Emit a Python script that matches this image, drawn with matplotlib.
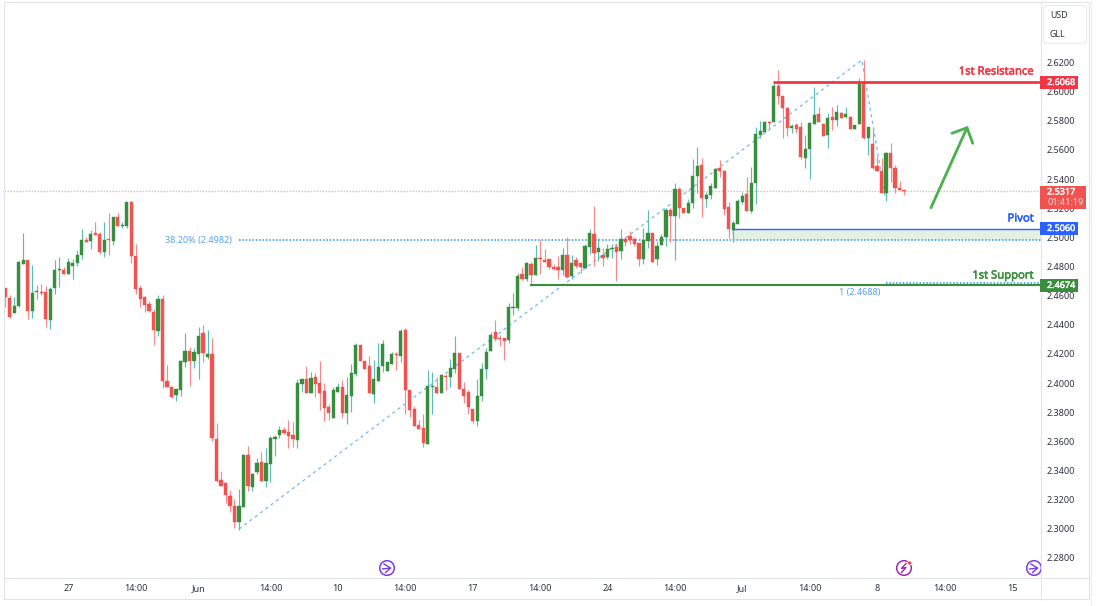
import matplotlib
matplotlib.use('Agg')
import matplotlib.pyplot as plt
import matplotlib.patheffects as pe
from matplotlib.patches import Circle, FancyBboxPatch, Rectangle

plt.rcParams['font.family'] = ['Noto Sans', 'DejaVu Sans']

# candle values
opens = [
    2.4655, 2.4583, 2.4483, 2.4526, 2.4819, 2.4844, 2.4492, 2.4627, 2.4625, 2.4625,
    2.4434, 2.4650, 2.4776, 2.4773, 2.4751, 2.4803, 2.4824, 2.4879, 2.4982, 2.4975,
    2.5030, 2.5021, 2.4902, 2.4986, 2.4977, 2.5140, 2.5080, 2.5080, 2.5243, 2.4872,
    2.4650, 2.4590, 2.4542, 2.4487, 2.4359, 2.4576, 2.4015, 2.3972, 2.3919, 2.3951,
    2.4141, 2.4217, 2.4153, 2.4199, 2.4341, 2.4178, 2.4196, 2.3619, 2.3335, 2.3315,
    2.3228, 2.3159, 2.3049, 2.3152, 2.3505, 2.3287, 2.3388, 2.3456, 2.3328, 2.3442,
    2.3619, 2.3642, 2.3676, 2.3665, 2.3642, 2.3607, 2.3990, 2.4031, 2.3933, 2.4043,
    2.3997, 2.3944, 2.3834, 2.3761, 2.3937, 2.3972, 2.3793, 2.3914, 2.4061, 2.4262,
    2.4150, 2.4118, 2.3928, 2.4017, 2.4116, 2.4081, 2.4132, 2.4196, 2.4184, 2.4361,
    2.3955, 2.3820, 2.3710, 2.3690, 2.3582, 2.3976, 2.3974, 2.3930, 2.4049, 2.4043,
    2.4095, 2.4205, 2.3958, 2.3937, 2.3820, 2.3738, 2.3914, 2.4093, 2.4219, 2.4349,
    2.4308, 2.4308, 2.4297, 2.4517, 2.4517, 2.4747, 2.4713, 2.4818, 2.4741, 2.4857,
    2.4844, 2.4850, 2.4793, 2.4793, 2.4777, 2.4876, 2.4734, 2.4844, 2.4823, 2.4789,
    2.4933, 2.5024, 2.4899, 2.4878, 2.4864, 2.4917, 2.4933, 2.4903, 2.4988, 2.5008,
    2.4988, 2.4958, 2.4853, 2.4974, 2.5029, 2.4848, 2.4947, 2.4999, 2.5189, 2.5148,
    2.5331, 2.5203, 2.5169, 2.5235, 2.5421, 2.5496, 2.5263, 2.5290, 2.5338, 2.5476,
    2.5453, 2.5205, 2.5052, 2.5093, 2.5242, 2.5297, 2.5182, 2.5375, 2.5704, 2.5723,
    2.5794, 2.5794, 2.6039, 2.5968, 2.5888, 2.5750, 2.5771, 2.5755, 2.5546, 2.5606,
    2.5778, 2.5844, 2.5778, 2.5704, 2.5828, 2.5805, 2.5853, 2.5823, 2.5828, 2.5741,
    2.5778, 2.6066, 2.5684, 2.5638, 2.5489, 2.5457, 2.5306, 2.5578, 2.5478, 2.5338,
    2.5324,
]
highs = [
    2.4655, 2.4604, 2.4588, 2.4838, 2.5032, 2.4844, 2.4810, 2.4670, 2.4677, 2.4666,
    2.4657, 2.4844, 2.4863, 2.4794, 2.4856, 2.4851, 2.4913, 2.5055, 2.5005, 2.5050,
    2.5103, 2.5039, 2.5103, 2.5165, 2.5142, 2.5165, 2.5108, 2.5243, 2.5252, 2.4954,
    2.4670, 2.4597, 2.4565, 2.4510, 2.4604, 2.4604, 2.4121, 2.3979, 2.3956, 2.4157,
    2.4341, 2.4244, 2.4238, 2.4386, 2.4398, 2.4363, 2.4309, 2.3729, 2.3399, 2.3322,
    2.3264, 2.3207, 2.3271, 2.3516, 2.3567, 2.3386, 2.3484, 2.3529, 2.3554, 2.3637,
    2.3646, 2.3704, 2.3697, 2.3749, 2.3731, 2.4031, 2.4031, 2.4116, 2.4077, 2.4072,
    2.4150, 2.3997, 2.3855, 2.3972, 2.3999, 2.4020, 2.4040, 2.4134, 2.4272, 2.4262,
    2.4150, 2.4184, 2.4157, 2.4272, 2.4294, 2.4141, 2.4212, 2.4212, 2.4368, 2.4375,
    2.3955, 2.3841, 2.3745, 2.3786, 2.4088, 2.4077, 2.4043, 2.4065, 2.4065, 2.4162,
    2.4322, 2.4205, 2.4008, 2.3951, 2.3825, 2.4026, 2.4139, 2.4237, 2.4349, 2.4432,
    2.4329, 2.4308, 2.4549, 2.4620, 2.4757, 2.4798, 2.4832, 2.4830, 2.4947, 2.4981,
    2.4917, 2.4850, 2.4816, 2.4871, 2.4924, 2.4999, 2.4878, 2.4864, 2.4823, 2.4954,
    2.5057, 2.5215, 2.4992, 2.4924, 2.4954, 2.4954, 2.4956, 2.5057, 2.5004, 2.5045,
    2.5004, 2.4958, 2.5061, 2.5187, 2.5029, 2.4972, 2.5022, 2.5199, 2.5203, 2.5370,
    2.5347, 2.5203, 2.5260, 2.5535, 2.5622, 2.5542, 2.5313, 2.5370, 2.5473, 2.5531,
    2.5462, 2.5242, 2.5112, 2.5260, 2.5313, 2.5416, 2.5484, 2.5755, 2.5798, 2.5798,
    2.5801, 2.6057, 2.6149, 2.5970, 2.5892, 2.5778, 2.5787, 2.5794, 2.5702, 2.5794,
    2.6030, 2.5897, 2.5778, 2.5851, 2.5892, 2.5908, 2.5860, 2.5892, 2.5833, 2.5771,
    2.6091, 2.6217, 2.5755, 2.5741, 2.5558, 2.5542, 2.5585, 2.5645, 2.5496, 2.5386,
    2.5324,
]
lows = [
    2.4524, 2.4446, 2.4483, 2.4524, 2.4819, 2.4441, 2.4446, 2.4579, 2.4604, 2.4386,
    2.4373, 2.4611, 2.4657, 2.4751, 2.4751, 2.4712, 2.4805, 2.4849, 2.4970, 2.4920,
    2.5018, 2.4883, 2.4867, 2.4881, 2.4945, 2.5080, 2.5067, 2.5067, 2.4826, 2.4611,
    2.4524, 2.4489, 2.4485, 2.4263, 2.4325, 2.3967, 2.3970, 2.3894, 2.3878, 2.3910,
    2.4112, 2.3981, 2.4102, 2.4031, 2.4146, 2.4162, 2.3603, 2.3322, 2.3292, 2.3177,
    2.3115, 2.3008, 2.2989, 2.3152, 2.3260, 2.3260, 2.3379, 2.3330, 2.3284, 2.3323,
    2.3497, 2.3626, 2.3653, 2.3555, 2.3559, 2.3555, 2.3939, 2.3933, 2.3933, 2.3903,
    2.3816, 2.3738, 2.3745, 2.3761, 2.3937, 2.3761, 2.3722, 2.3800, 2.4049, 2.4150,
    2.4097, 2.3930, 2.3866, 2.4017, 2.4075, 2.4081, 2.4132, 2.4088, 2.4143, 2.3786,
    2.3768, 2.3706, 2.3683, 2.3559, 2.3582, 2.3786, 2.3928, 2.3930, 2.3951, 2.3972,
    2.4070, 2.3958, 2.3866, 2.3786, 2.3729, 2.3706, 2.3878, 2.4026, 2.4219, 2.4288,
    2.4253, 2.4157, 2.4278, 2.4466, 2.4500, 2.4704, 2.4702, 2.4667, 2.4741, 2.4747,
    2.4830, 2.4784, 2.4773, 2.4713, 2.4741, 2.4720, 2.4715, 2.4791, 2.4754, 2.4789,
    2.4887, 2.4805, 2.4839, 2.4802, 2.4848, 2.4855, 2.4702, 2.4853, 2.4940, 2.4954,
    2.4940, 2.4805, 2.4818, 2.4928, 2.4828, 2.4812, 2.4947, 2.4942, 2.4970, 2.4844,
    2.5132, 2.5167, 2.5169, 2.5201, 2.5302, 2.5139, 2.5205, 2.5260, 2.5338, 2.5416,
    2.5153, 2.4992, 2.4965, 2.5093, 2.5226, 2.5182, 2.5164, 2.5228, 2.5684, 2.5723,
    2.5741, 2.5794, 2.5915, 2.5684, 2.5695, 2.5713, 2.5718, 2.5535, 2.5478, 2.5397,
    2.5778, 2.5791, 2.5695, 2.5615, 2.5736, 2.5764, 2.5819, 2.5819, 2.5741, 2.5741,
    2.5778, 2.5672, 2.5567, 2.5471, 2.5455, 2.5301, 2.5251, 2.5379, 2.5301, 2.5324,
    2.5292,
]
closes = [
    2.4591, 2.4451, 2.4531, 2.4831, 2.4844, 2.4492, 2.4618, 2.4631, 2.4618, 2.4441,
    2.4645, 2.4778, 2.4783, 2.4751, 2.4831, 2.4824, 2.4881, 2.4980, 2.4970, 2.5025,
    2.5018, 2.4902, 2.4982, 2.4980, 2.5140, 2.5080, 2.5085, 2.5243, 2.4874, 2.4647,
    2.4574, 2.4533, 2.4494, 2.4363, 2.4576, 2.4013, 2.3974, 2.3905, 2.3956, 2.4151,
    2.4217, 2.4151, 2.4212, 2.4320, 2.4203, 2.4201, 2.3622, 2.3326, 2.3296, 2.3230,
    2.3154, 2.3044, 2.3154, 2.3505, 2.3294, 2.3374, 2.3454, 2.3330, 2.3451, 2.3625,
    2.3628, 2.3681, 2.3655, 2.3635, 2.3614, 2.3997, 2.4031, 2.3933, 2.4036, 2.3994,
    2.3933, 2.3830, 2.3793, 2.3951, 2.3972, 2.3793, 2.3917, 2.4072, 2.4258, 2.4150,
    2.4097, 2.3935, 2.4031, 2.4113, 2.4267, 2.4141, 2.4201, 2.4191, 2.4356, 2.3951,
    2.3814, 2.3706, 2.3683, 2.3587, 2.3978, 2.3981, 2.3933, 2.4054, 2.4043, 2.4102,
    2.4205, 2.3958, 2.3914, 2.3834, 2.3738, 2.3912, 2.4093, 2.4214, 2.4329, 2.4301,
    2.4304, 2.4288, 2.4521, 2.4521, 2.4734, 2.4715, 2.4823, 2.4738, 2.4860, 2.4853,
    2.4830, 2.4793, 2.4782, 2.4777, 2.4876, 2.4727, 2.4823, 2.4802, 2.4793, 2.4940,
    2.5029, 2.4894, 2.4926, 2.4855, 2.4917, 2.4926, 2.4901, 2.4988, 2.4965, 2.4981,
    2.4951, 2.4850, 2.4981, 2.5029, 2.4832, 2.4938, 2.4999, 2.5189, 2.5148, 2.5331,
    2.5201, 2.5167, 2.5235, 2.5421, 2.5492, 2.5267, 2.5290, 2.5350, 2.5469, 2.5455,
    2.5194, 2.5057, 2.5098, 2.5251, 2.5283, 2.5182, 2.5372, 2.5709, 2.5730, 2.5791,
    2.5787, 2.6039, 2.5970, 2.5885, 2.5750, 2.5764, 2.5746, 2.5553, 2.5606, 2.5782,
    2.5842, 2.5791, 2.5695, 2.5817, 2.5803, 2.5860, 2.5819, 2.5846, 2.5746, 2.5771,
    2.6066, 2.5679, 2.5755, 2.5475, 2.5455, 2.5304, 2.5578, 2.5478, 2.5340, 2.5324,
    2.5317,
]

price_ticks = [2.28, 2.30, 2.32, 2.34, 2.36, 2.38, 2.40, 2.42, 2.44, 2.46,
               2.48, 2.50, 2.52, 2.54, 2.56, 2.58, 2.60, 2.62]
time_ticks = [14, 29, 43, 59, 74, 89, 104, 119, 134, 149, 164, 179, 194, 209, 224]
time_labels = ['27', '14:00', 'Jun', '14:00', '10', '14:00', '17', '14:00', '24',
               '14:00', 'Jul', '14:00', '8', '14:00', '15']

resistance = 2.6068
pivot = 2.5060
support = 2.4674
last_price = 2.5317
fib_382 = 2.4982
fib_100 = 2.4688
fib_x = [52, 190.6, 195.9]
fib_y = [2.2998, 2.6217, 2.5263]

GREEN = '#388e3c'
RED = '#f05350'
BLUE = '#2962ff'
FIB = '#2196f3'
AXIS = '#e0e3eb'
TEXT = '#2f333e'

W, H = 1102, 606
fig = plt.figure(figsize=(W / 100, H / 100), dpi=100, facecolor='white')

# chart area: px 4..1041 across, 3..578 down
ax = fig.add_axes([4 / W, 1 - 578 / H, 1037 / W, 575 / H])
ax.set_xlim(-0.29, 230.47)
ax.set_ylim(2.2662, 2.6608)
for s in ax.spines.values():
    s.set_visible(False)

ax.yaxis.tick_right()
ax.set_yticks(price_ticks)
ax.set_yticklabels(['%.4f' % p for p in price_ticks])
ax.set_xticks(time_ticks)
ax.set_xticklabels(time_labels)
ax.tick_params(axis='y', length=0, pad=4.3, labelsize=6.5, labelcolor=TEXT)
ax.tick_params(axis='x', length=0, pad=4.5, labelsize=6.5, labelcolor=TEXT)

# support zone and levels
ax.fill_between([161.7, 230.47], fib_382, pivot, color='#e3f0e4', lw=0, zorder=1)
ax.plot([52, 230.47], [fib_382, fib_382], color=FIB, lw=1.1, ls=(0, (1, 1.2)), zorder=1.5)
ax.plot([196, 230.47], [fib_100, fib_100], color=FIB, lw=1.1, ls=(0, (1, 1.2)), zorder=1.5)
ax.plot([-0.29, 230.47], [last_price, last_price], color='#f7b3b3', lw=0.9,
        ls=(0, (1.2, 1.2)), zorder=1.5)
ax.plot(fib_x, fib_y, color=FIB, alpha=0.65, lw=0.9, ls=(0, (2.5, 2.8)), zorder=1.6)

# candles
for i in range(len(opens)):
    up = closes[i] >= opens[i]
    ax.vlines(i, lows[i], highs[i], color='#5dbdb2' if up else '#f7888b', lw=0.85, zorder=2)
    ax.bar(i, abs(closes[i] - opens[i]), bottom=min(opens[i], closes[i]), width=0.72,
           color=GREEN if up else RED, edgecolor=GREEN if up else RED, lw=0.3, zorder=3)

ax.plot([170.8, 230.47], [resistance, resistance], color='#f23645', lw=2, zorder=4,
        solid_capstyle='butt')
ax.plot([161.7, 230.47], [pivot, pivot], color=BLUE, lw=1, zorder=4, solid_capstyle='butt')
ax.plot([116.7, 230.47], [support, support], color=GREEN, lw=1.5, zorder=4, solid_capstyle='butt')

# everything around the chart, in plain pixels
top = fig.add_axes([0, 0, 1, 1], facecolor='none')
top.set_xlim(0, W)
top.set_ylim(H, 0)
top.axis('off')

top.add_patch(Rectangle((3.5, 2), 1085.5, 596.7, fill=False, ec=AXIS, lw=0.8))
top.plot([1040.5, 1040.5], [2, 598.7], color=AXIS, lw=0.8)
top.plot([3.5, 1089], [578, 578], color=AXIS, lw=0.8)
top.plot([1091, 1091], [0, 606], color='#eeeeee', lw=0.8)

top.add_patch(FancyBboxPatch((1045, 7), 40, 35, boxstyle='round,pad=1.5,rounding_size=3',
                             fc='white', ec='#e9eaef', lw=0.8))
top.text(1050, 15.5, 'USD', fontsize=6.3, color=TEXT, va='center')
top.text(1050, 34.5, 'GLL', fontsize=6.3, color=TEXT, va='center')


def tag(y0, y1, right, color):
    top.add_patch(Rectangle((1040, y0), right - 1040, y1 - y0, fc=color, ec='none', zorder=5))


def thick(color, w=0.35):
    # Noto Sans has no heavier cut here, so fatten the outline a little
    return [pe.withStroke(linewidth=w, foreground=color)]


tag(76, 88.5, 1078, '#f23645')
tag(222, 234.5, 1078, BLUE)
tag(279, 291.5, 1078, GREEN)
tag(186, 209, 1086, RED)
for y, val in [(82.5, resistance), (228.5, pivot), (285.5, support), (192, last_price)]:
    top.text(1047, y, '%.4f' % val, color='white', fontsize=6.5, va='center', zorder=6,
             path_effects=thick('white', 0.25))
top.text(1047, 202.5, '01:41:19', color='#fbd5d5', fontsize=6.5, va='center', zorder=6)

top.text(1034, 72, '1st Resistance', color='#f23645', fontsize=8.1, ha='right', va='center',
         path_effects=thick('#f23645'))
top.text(1034, 219, 'Pivot', color=BLUE, fontsize=8.1, ha='right', va='center',
         path_effects=thick(BLUE))
top.text(1034, 276, '1st Support', color=GREEN, fontsize=8.1, ha='right', va='center',
         path_effects=thick(GREEN))
top.text(232, 240, '38.20%% (%.4f)' % fib_382, color='#5a9ff0', fontsize=6.5,
         ha='right', va='center')
top.text(880, 292, '1 (%.4f)' % fib_100, color='#5a9ff0', fontsize=6.5, ha='right', va='center')

# green arrow
top.plot([931, 967], [207.7, 127.7], color='#4caf50', lw=2, solid_capstyle='round')
top.plot([952, 967, 972.7], [133.3, 127.7, 143.3], color='#4caf50', lw=2,
         solid_capstyle='round', solid_joinstyle='round')


def jump_icon(cx, cy):
    top.add_patch(Circle((cx, cy), 7.3, fill=False, ec='#7c3aed', lw=1.1, clip_on=True))
    top.plot([cx - 4.5, cx + 3.5], [cy + 1, cy], color='#7c3aed', lw=1)
    top.plot([cx - 3, cx + 3.5, cx - 1.5], [cy - 4, cy, cy + 4.5], color='#7c3aed', lw=1)


jump_icon(387, 568)

# right one runs into the price axis, so cut it there
clip = Rectangle((1026, 555), 14.5, 24, transform=top.transData)
p = Circle((1034, 568), 7.3, fill=False, ec='#7c3aed', lw=1.1)
top.add_patch(p)
p.set_clip_path(clip)
top.plot([1029.5, 1037.5], [569, 568], color='#7c3aed', lw=1)
top.plot([1031, 1037.5, 1032.5], [564, 568, 572.5], color='#7c3aed', lw=1)

# lightning event marker
top.add_patch(Circle((904, 568), 7.3, fill=False, ec='#9c27b0', lw=1.1))
top.plot([906, 901.5, 906, 901.5], [563.5, 568.5, 567.5, 572.5], color='#9c27b0', lw=1)
top.add_patch(Circle((909.5, 563), 2, fc='#f23645', ec='white', lw=0.5))

fig.savefig('out.png', dpi=100)
plt.close()
